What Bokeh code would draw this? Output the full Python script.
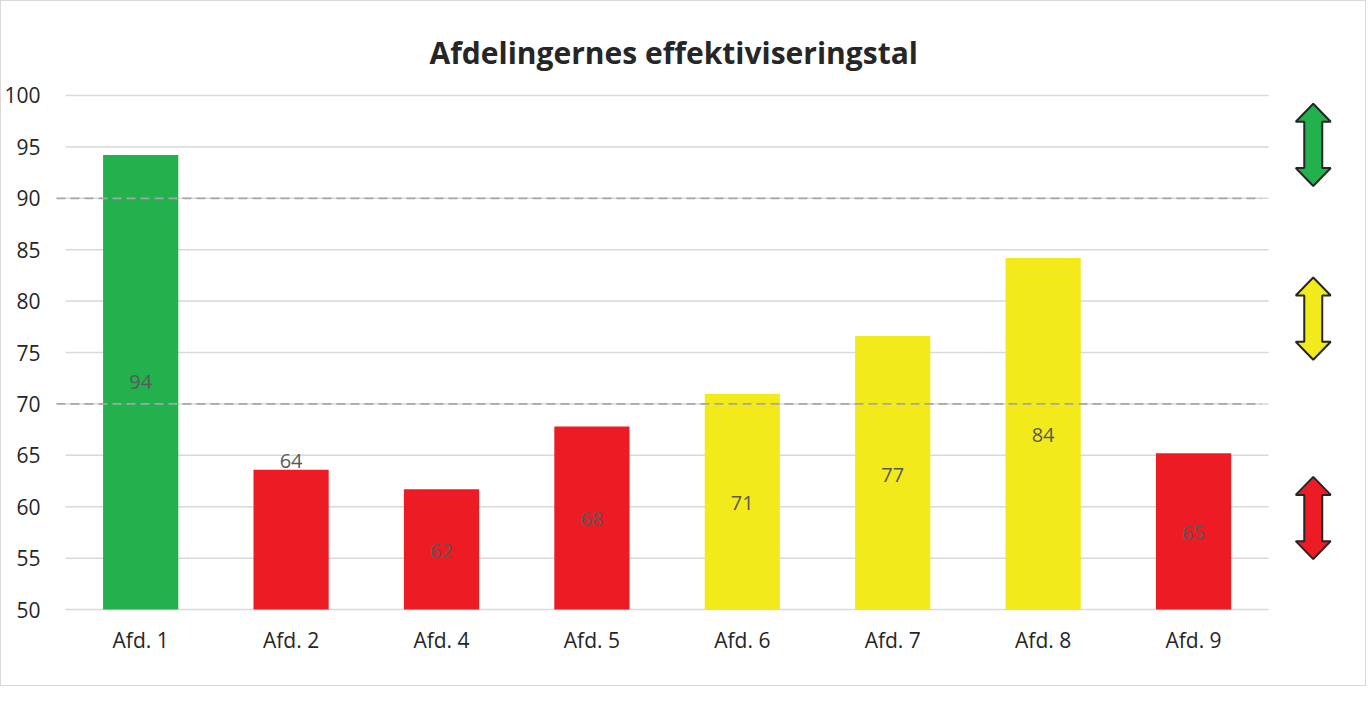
from bokeh.plotting import figure
from bokeh.models import Range1d, FixedTicker, ColumnDataSource
from bokeh.core.properties import value
from bokeh.embed import file_html
from bokeh.resources import INLINE

# ---- data ----
categories = ["Afd. 1", "Afd. 2", "Afd. 4", "Afd. 5", "Afd. 6", "Afd. 7", "Afd. 8", "Afd. 9"]
scores = [94.2, 63.6, 61.7, 67.8, 71.0, 76.6, 84.2, 65.2]
label_anchor = [72.1, 64.4, 55.7, 58.8, 60.4, 63.1, 67.0, 57.4]
thresholds = [70, 90]
band_colors = ["#ED1C24", "#F2EA1A", "#22B14C"]
arrow_centers = [58.9, 78.3, 95.2]
y_ticks = list(range(50, 101, 5))

FONT = "Open Sans"

pos = [i + 0.5 for i in range(len(categories))]
colors = [band_colors[sum(v >= t for t in thresholds)] for v in scores]

src = ColumnDataSource(dict(
    x=pos, top=scores, color=colors, ly=label_anchor,
    txt=[str(int(round(v))) for v in scores], cat=categories,
))

p = figure(
    frame_width=1295, frame_height=530,
    x_range=Range1d(-0.073, 8.537), y_range=Range1d(49.42, 100.97),
    output_backend="svg", toolbar_location=None,
    min_border_left=47, min_border_right=16, min_border_top=84, min_border_bottom=70,
    title="Afdelingernes effektiviseringstal",
)
p.styles = {"border": "1px solid #d9d9d9"}
p.outline_line_color = None
p.xgrid.visible = False
p.ygrid.visible = False

p.title.align = "left"
p.title.offset = 375
p.title.standoff = 26
p.title.text_font = FONT
p.title.text_font_size = "30px"
p.title.text_font_style = "bold"
p.title.text_color = "#262626"

# gridlines
p.segment(x0=0, x1=len(categories), y0=y_ticks, y1=y_ticks,
          line_color="#d9d9d9", line_width=1.5)

# bars
p.vbar(x="x", top="top", bottom=50, width=0.5, fill_color="color",
       line_color=None, source=src)

# threshold lines
p.segment(x0=-0.06, x1=len(categories) - 0.05, y0=thresholds, y1=thresholds,
          line_color="#a6a6a6", line_width=1.8, line_dash="9 5")

# value labels
p.text(x="x", y="ly", text="txt", source=src, text_align="center",
       text_baseline="middle", text_font=value(FONT), text_font_size="20px",
       text_color="#595959")

# double arrows
xs, ys = [], []
x0, hw, sw, h, hh = 8.296, 0.1164, 0.0598, 4.0, 1.75
for c in arrow_centers:
    xs.append([x0, x0 + hw, x0 + sw, x0 + sw, x0 + hw, x0, x0 - hw, x0 - sw, x0 - sw, x0 - hw])
    ys.append([c + h, c + h - hh, c + h - hh, c - h + hh, c - h + hh, c - h,
               c - h + hh, c - h + hh, c + h - hh, c + h - hh])
p.patches(xs=xs, ys=ys, fill_color=band_colors, line_color="#262626", line_width=2)

# axes
p.xaxis.ticker = FixedTicker(ticks=pos)
p.xaxis.major_label_overrides = {x: c for x, c in zip(pos, categories)}
p.yaxis.ticker = FixedTicker(ticks=y_ticks)
for ax in (p.xaxis[0], p.yaxis[0]):
    ax.axis_line_color = None
    ax.major_tick_line_color = None
    ax.minor_tick_line_color = None
    ax.major_label_text_font = FONT
    ax.major_label_text_font_size = "21px"
    ax.major_label_text_color = "#262626"
p.xaxis.major_label_standoff = 4
p.yaxis.major_label_standoff = 8

open("out.html", "w").write(file_html(p, INLINE))
